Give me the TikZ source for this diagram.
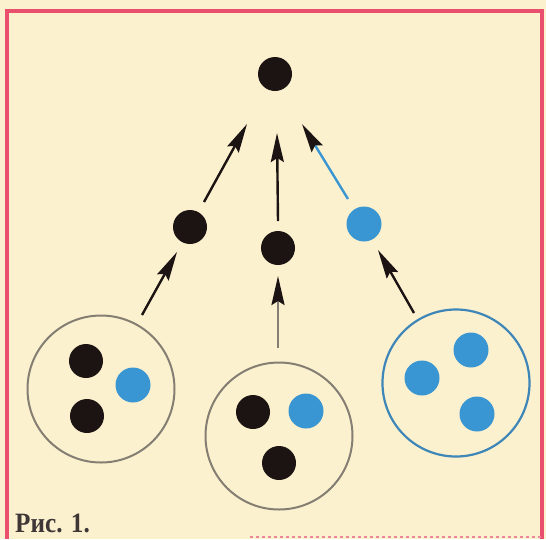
\documentclass[tikz,border=0pt]{standalone}
\usepackage{fontspec}
\setmainfont{Liberation Serif}
\usetikzlibrary{arrows.meta}
\definecolor{paper}{HTML}{FCF1CF}
\definecolor{framepink}{HTML}{E8506E}
\definecolor{dotblue}{HTML}{3A96D2}
\definecolor{dotblack}{HTML}{1C1412}
\definecolor{ringgray}{HTML}{857E72}
\definecolor{ringblue}{HTML}{3F86B8}
\begin{document}
\begin{tikzpicture}[x=1pt,y=-1pt,
  blk/.style={circle,fill=dotblack,inner sep=0pt,minimum size=34pt},
  blu/.style={circle,fill=dotblue,inner sep=0pt,minimum size=35pt},
  ring/.style={circle,draw=ringgray,line width=2pt,inner sep=0pt,minimum size=147pt},
  ringb/.style={circle,draw=ringblue,line width=2.2pt,inner sep=0pt,minimum size=147pt},
  arr/.style={line width=2.4pt,draw=dotblack,-{Stealth[length=29pt,width=13pt,inset=4pt,color=dotblack]}},
  arrb/.style={line width=2.4pt,draw=dotblue,-{Stealth[length=29pt,width=13pt,inset=4pt,color=dotblack]}}
]
\useasboundingbox (0,0) rectangle (546,539);
\fill[paper] (0,0) rectangle (546,539);
\draw[framepink,line width=3.5pt] (7,539) -- (7,11) -- (542,11) -- (542,539);
\draw[framepink!70,line width=1.5pt,dashed] (250,537) -- (542,537);

% top
\node[blk] (top) at (275,74) {};
% middle
\node[blk] (ml) at (190,227) {};
\node[blk] (mc) at (278,248) {};
\node[blu] (mr) at (364,224) {};
% rings
\node[ring] (rl) at (101,389) {};
\node[ring] (rc) at (279,436) {};
\node[ringb] (rr) at (456,383) {};
% dots in rings
\node[blk] (l1) at (86,361) {};
\node[blk] (l2) at (87,416) {};
\node[blu] (l3) at (133,385) {};
\node[blk] (c1) at (253,412) {};
\node[blu] (c2) at (306,411) {};
\node[blk] (c3) at (279,463) {};
\node[blu] (r1) at (471,350) {};
\node[blu] (r2) at (422,378) {};
\node[blu] (r3) at (477,414) {};

% tail/tip coordinates
\coordinate (tl) at (204,202);
\coordinate (hl) at (247,124);
\coordinate (tc) at (278,221);
\coordinate (hc) at (277,133);
\coordinate (tr) at (348,199);
\coordinate (hr) at (302,124);
\coordinate (tl2) at (142,315);
\coordinate (hl2) at (177,252);
\coordinate (tc2) at (278,348);
\coordinate (hc2) at (278,276);
\coordinate (tr2) at (414,313);
\coordinate (hr2) at (378,250);

\draw[arr] (tl) -- (hl);
\draw[arr] (tc) -- (hc);
\draw[arrb] (tr) -- (hr);
\draw[arr] (tl2) -- (hl2);
\draw[arr,draw=ringgray] (tc2) -- (hc2);
\draw[arr] (tr2) -- (hr2);

\node[anchor=base west,inner sep=0pt,text=dotblack!85,font=\bfseries\fontsize{28}{28}\selectfont] (cap) at (15,532) {\scalebox{0.9}[1]{Рис. 1.}};
\end{tikzpicture}
\end{document}
